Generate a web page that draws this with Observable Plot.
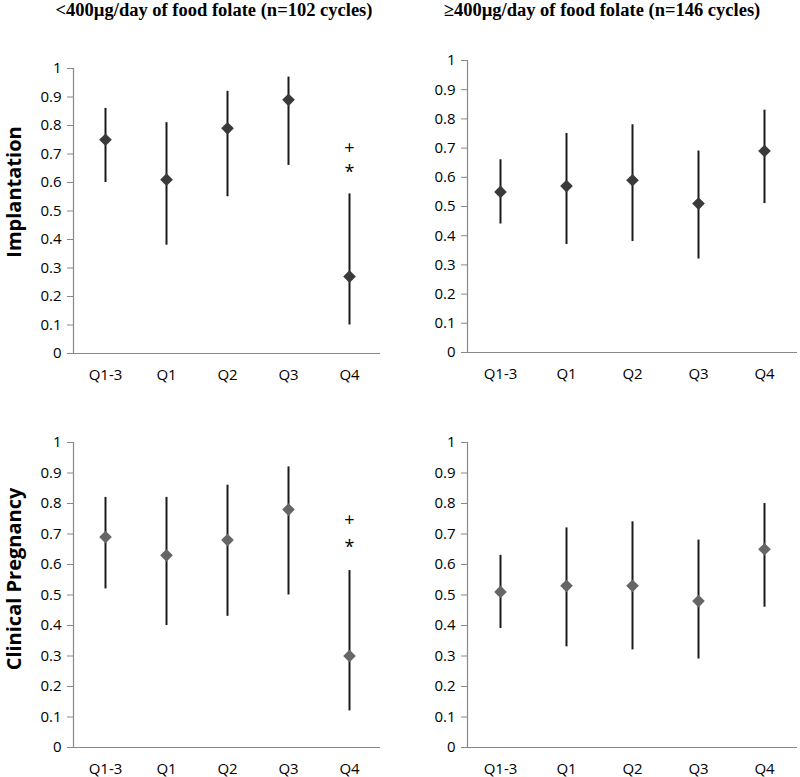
<!DOCTYPE html>
<html>
<head>
<meta charset="utf-8">
<script src="https://cdn.jsdelivr.net/npm/d3@7"></script>
<script src="https://cdn.jsdelivr.net/npm/@observablehq/plot@0.6"></script>
<style>
  html, body { margin: 0; padding: 0; background: #fff; }
  #wrap { position: relative; width: 800px; height: 777px; overflow: hidden; }
  .title { position: absolute; top: 0px; font-family: "Liberation Serif", "Times New Roman", serif; font-weight: bold; font-size: 18.5px; white-space: nowrap; transform: translateX(-50%); color: #000; }
  .ytitle { position: absolute; font-family: "Open Sans", sans-serif; font-weight: bold; font-size: 20px; white-space: nowrap; transform: translate(-50%, -50%) rotate(-90deg); color: #000; }
  .panel { position: absolute; }
</style>
</head>
<body>
<div id="wrap"></div>
<script>
// Categories
const categories = ["Q1-3", "Q1", "Q2", "Q3", "Q4"];
const yTicks = [0, 0.1, 0.2, 0.3, 0.4, 0.5, 0.6, 0.7, 0.8, 0.9, 1];

// Implantation, <400 µg/day
const implLowEst = [0.75, 0.61, 0.79, 0.89, 0.27];
const implLowLo  = [0.60, 0.38, 0.55, 0.66, 0.10];
const implLowHi  = [0.86, 0.81, 0.92, 0.97, 0.56];
// Implantation, >=400 µg/day
const implHighEst = [0.55, 0.57, 0.59, 0.51, 0.69];
const implHighLo  = [0.44, 0.37, 0.38, 0.32, 0.51];
const implHighHi  = [0.66, 0.75, 0.78, 0.69, 0.83];
// Clinical pregnancy, <400 µg/day
const cpLowEst = [0.69, 0.63, 0.68, 0.78, 0.30];
const cpLowLo  = [0.52, 0.40, 0.43, 0.50, 0.12];
const cpLowHi  = [0.82, 0.82, 0.86, 0.92, 0.58];
// Clinical pregnancy, >=400 µg/day
const cpHighEst = [0.51, 0.53, 0.53, 0.48, 0.65];
const cpHighLo  = [0.39, 0.33, 0.32, 0.29, 0.46];
const cpHighHi  = [0.63, 0.72, 0.74, 0.68, 0.80];

// Significance annotations (category, label, y value)
const implLowMarks = [{cat: "Q4", label: "+", v: 0.72}, {cat: "Q4", label: "*", v: 0.635}];
const cpLowMarks   = [{cat: "Q4", label: "+", v: 0.745}, {cat: "Q4", label: "*", v: 0.655}];

const titles = [
  {text: "<400µg/day of food folate (n=102 cycles)", x: 214},
  {text: "≥400µg/day of food folate (n=146 cycles)", x: 602}
];
const rowTitles = [
  {text: "Implantation", y: 192},
  {text: "Clinical Pregnancy", y: 579}
];

const wrap = document.getElementById("wrap");
for (const t of titles) {
  const d = document.createElement("div");
  d.className = "title"; d.textContent = t.text; d.style.left = t.x + "px";
  wrap.appendChild(d);
}
for (const t of rowTitles) {
  const d = document.createElement("div");
  d.className = "ytitle"; d.textContent = t.text; d.style.left = "13px"; d.style.top = t.y + "px";
  wrap.appendChild(d);
}

function rows(est, lo, hi) {
  return categories.map((c, i) => ({cat: c, est: est[i], lo: lo[i], hi: hi[i]}));
}

const FS = 15;
function panel({est, lo, hi, marks, left, top, width, height, mL, mR, mT, mB, fill}) {
  const data = rows(est, lo, hi);
  const chart = Plot.plot({
    width, height,
    marginLeft: mL, marginRight: mR, marginTop: mT, marginBottom: mB,
    style: {fontFamily: "'Open Sans', sans-serif", fontSize: FS + "px", color: "#000", background: "transparent"},
    x: {type: "point", domain: categories, padding: 0.5},
    y: {domain: [0, 1]},
    marks: [
      Plot.frame({anchor: "left", stroke: "#888", strokeWidth: 1.2}),
      Plot.ruleY([0], {stroke: "#888", strokeWidth: 1.2}),
      Plot.axisY({ticks: yTicks, tickFormat: d => String(+d.toFixed(1)), tickSize: 6, tickPadding: 6, label: null, fontSize: FS, stroke: "#888", fill: "#000"}),
      Plot.axisX({tickSize: 0, tickPadding: 16, label: null, fontSize: FS, fill: "#000"}),
      Plot.ruleX(data, {x: "cat", y1: "lo", y2: "hi", stroke: "#1a1a1a", strokeWidth: 2}),
      Plot.dot(data, {x: "cat", y: "est", symbol: "diamond2", r: 5.7, fill, stroke: "none"}),
      ...(marks ? [Plot.text(marks, {x: "cat", y: "v", text: "label", fontSize: 18, fill: "#000"})] : [])
    ]
  });
  const d = document.createElement("div");
  d.className = "panel"; d.style.left = left + "px"; d.style.top = top + "px";
  d.appendChild(chart);
  wrap.appendChild(d);
}

const dark = "#3a3a3a", mid = "#666666";
panel({est: implLowEst, lo: implLowLo, hi: implLowHi, marks: implLowMarks, left: 0, top: 40, width: 400, height: 360, mL: 73, mR: 20, mT: 28, mB: 47, fill: dark});
panel({est: implHighEst, lo: implHighLo, hi: implHighHi, left: 400, top: 40, width: 400, height: 360, mL: 67, mR: 3, mT: 20, mB: 48, fill: dark});
panel({est: cpLowEst, lo: cpLowLo, hi: cpLowHi, marks: cpLowMarks, left: 0, top: 410, width: 400, height: 367, mL: 73, mR: 20, mT: 32, mB: 30, fill: mid});
panel({est: cpHighEst, lo: cpHighLo, hi: cpHighHi, left: 400, top: 410, width: 400, height: 367, mL: 67, mR: 3, mT: 32, mB: 30, fill: mid});
</script>
</body>
</html>
